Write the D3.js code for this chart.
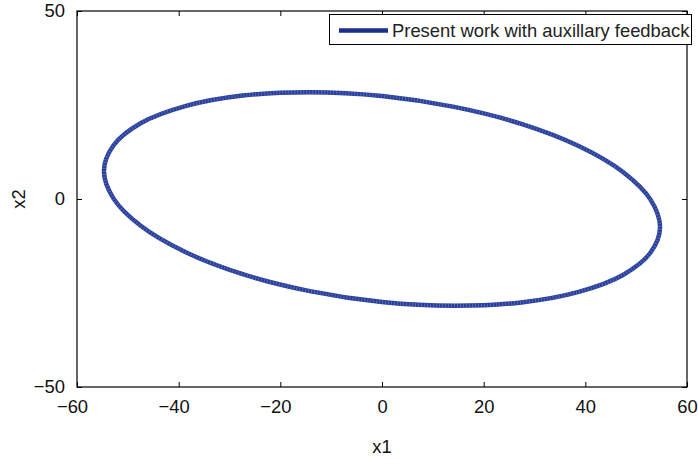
<!DOCTYPE html>
<html>
<head>
<meta charset="utf-8">
<script src="https://cdn.jsdelivr.net/npm/d3@7"></script>
<style>
  body { margin: 0; background: #fff; }
  svg { display: block; font-family: "Liberation Sans", Arial, sans-serif; }
</style>
</head>
<body>
<div id="chart"></div>
<script>
// trajectory (x1, x2)
let x1 = [54.7, 52.8, 47.4, 38.7, 27.4, 14.2, 0, -14.2, -27.4, -38.7, -47.4, -52.8,
          -54.7, -52.8, -47.4, -38.7, -27.4, -14.2, 0, 14.2, 27.4, 38.7, 47.4, 52.8]
let x2 = [-7.5, -0.1, 7.2, 14.1, 20.0, 24.5, 27.4, 28.4, 27.5, 24.7, 20.2, 14.3,
          7.5, 0.1, -7.2, -14.1, -20.0, -24.5, -27.4, -28.4, -27.5, -24.7, -20.2, -14.3]

let xTicks = [-60, -40, -20, 0, 20, 40, 60]
let yTicks = [-50, 0, 50]
let legendLabel = 'Present work with auxillary feedback'

let width = 698,
    height = 459,
    margin = {left: 77, top: 11, right: 11, bottom: 72}

let svg = d3.select('#chart').append('svg')
    .attr('width', width)
    .attr('height', height)

let x = d3.scaleLinear().domain([-60, 60]).range([margin.left, width - margin.right])
let y = d3.scaleLinear().domain([-50, 50]).range([height - margin.bottom, margin.top])

let fmt = function(d){ return d < 0 ? '\u2212' + Math.abs(d) : '' + d }

// bottom axis
let gx = svg.append('g')
    .attr('transform', 'translate(0,' + y(-50) + ')')
    .call(d3.axisBottom(x).tickValues(xTicks).tickFormat(fmt).tickSizeInner(-5).tickSizeOuter(0).tickPadding(13))
gx.select('.domain').remove()
gx.selectAll('text')
    .attr('font-size', 18.4)
    .attr('fill', '#111')
    .attr('dx', function(d){ return d < 0 ? -5 : 0 })

// left axis
let gy = svg.append('g')
    .attr('transform', 'translate(' + x(-60) + ',0)')
    .call(d3.axisLeft(y).tickValues(yTicks).tickFormat(fmt).tickSizeInner(-5).tickSizeOuter(0).tickPadding(12))
gy.select('.domain').remove()
gy.selectAll('text').attr('font-size', 18.4).attr('fill', '#111')

// mirrored ticks on top and right
let gt = svg.append('g')
    .attr('transform', 'translate(0,' + y(50) + ')')
    .call(d3.axisTop(x).tickValues(xTicks).tickFormat('').tickSizeInner(-5).tickSizeOuter(0))
gt.select('.domain').remove()

let gr = svg.append('g')
    .attr('transform', 'translate(' + x(60) + ',0)')
    .call(d3.axisRight(y).tickValues(yTicks).tickFormat('').tickSizeInner(-5).tickSizeOuter(0))
gr.select('.domain').remove()

svg.selectAll('.tick line').attr('stroke', '#000')

// frame
svg.append('rect')
    .attr('x', x(-60))
    .attr('y', y(50))
    .attr('width', x(60) - x(-60))
    .attr('height', y(-50) - y(50))
    .attr('fill', 'none')
    .attr('stroke', '#000')
    .attr('stroke-width', 1.2)

let points = x1.map(function(d, i){ return [d, x2[i]] })

let drawer = d3.line()
    .curve(d3.curveCatmullRomClosed)
    .x(function(d){ return x(d[0]) })
    .y(function(d){ return y(d[1]) })

svg.append('path')
    .datum(points)
    .attr('d', drawer)
    .attr('fill', 'none')
    .attr('stroke', '#283e9c')
    .attr('stroke-width', 4.5)

svg.append('path')
    .datum(points)
    .attr('d', drawer)
    .attr('fill', 'none')
    .attr('stroke', '#8595d0')
    .attr('stroke-width', 3.5)
    .attr('stroke-dasharray', '1,2')
    .attr('opacity', 0.5)

// axis labels
svg.append('text')
    .attr('x', (x(-60) + x(60)) / 2)
    .attr('y', 453)
    .attr('text-anchor', 'middle')
    .attr('font-size', 18.4)
    .attr('fill', '#111')
    .text('x1')

svg.append('text')
    .attr('transform', 'translate(25,' + y(0) + ') rotate(-90)')
    .attr('text-anchor', 'middle')
    .attr('font-size', 18.4)
    .attr('fill', '#111')
    .text('x2')

// legend
let legend = svg.append('g')

legend.append('rect')
    .attr('x', 329.5)
    .attr('y', 14.5)
    .attr('width', 362)
    .attr('height', 30)
    .attr('fill', '#fff')
    .attr('stroke', '#000')
    .attr('stroke-width', 1)

legend.append('line')
    .attr('x1', 339)
    .attr('x2', 388)
    .attr('y1', 30.5)
    .attr('y2', 30.5)
    .attr('stroke', '#1a2f8c')
    .attr('stroke-width', 4.5)

legend.append('text')
    .attr('x', 392)
    .attr('y', 37)
    .attr('font-size', 18.4)
    .attr('fill', '#222')
    .text(legendLabel)
</script>
</body>
</html>
